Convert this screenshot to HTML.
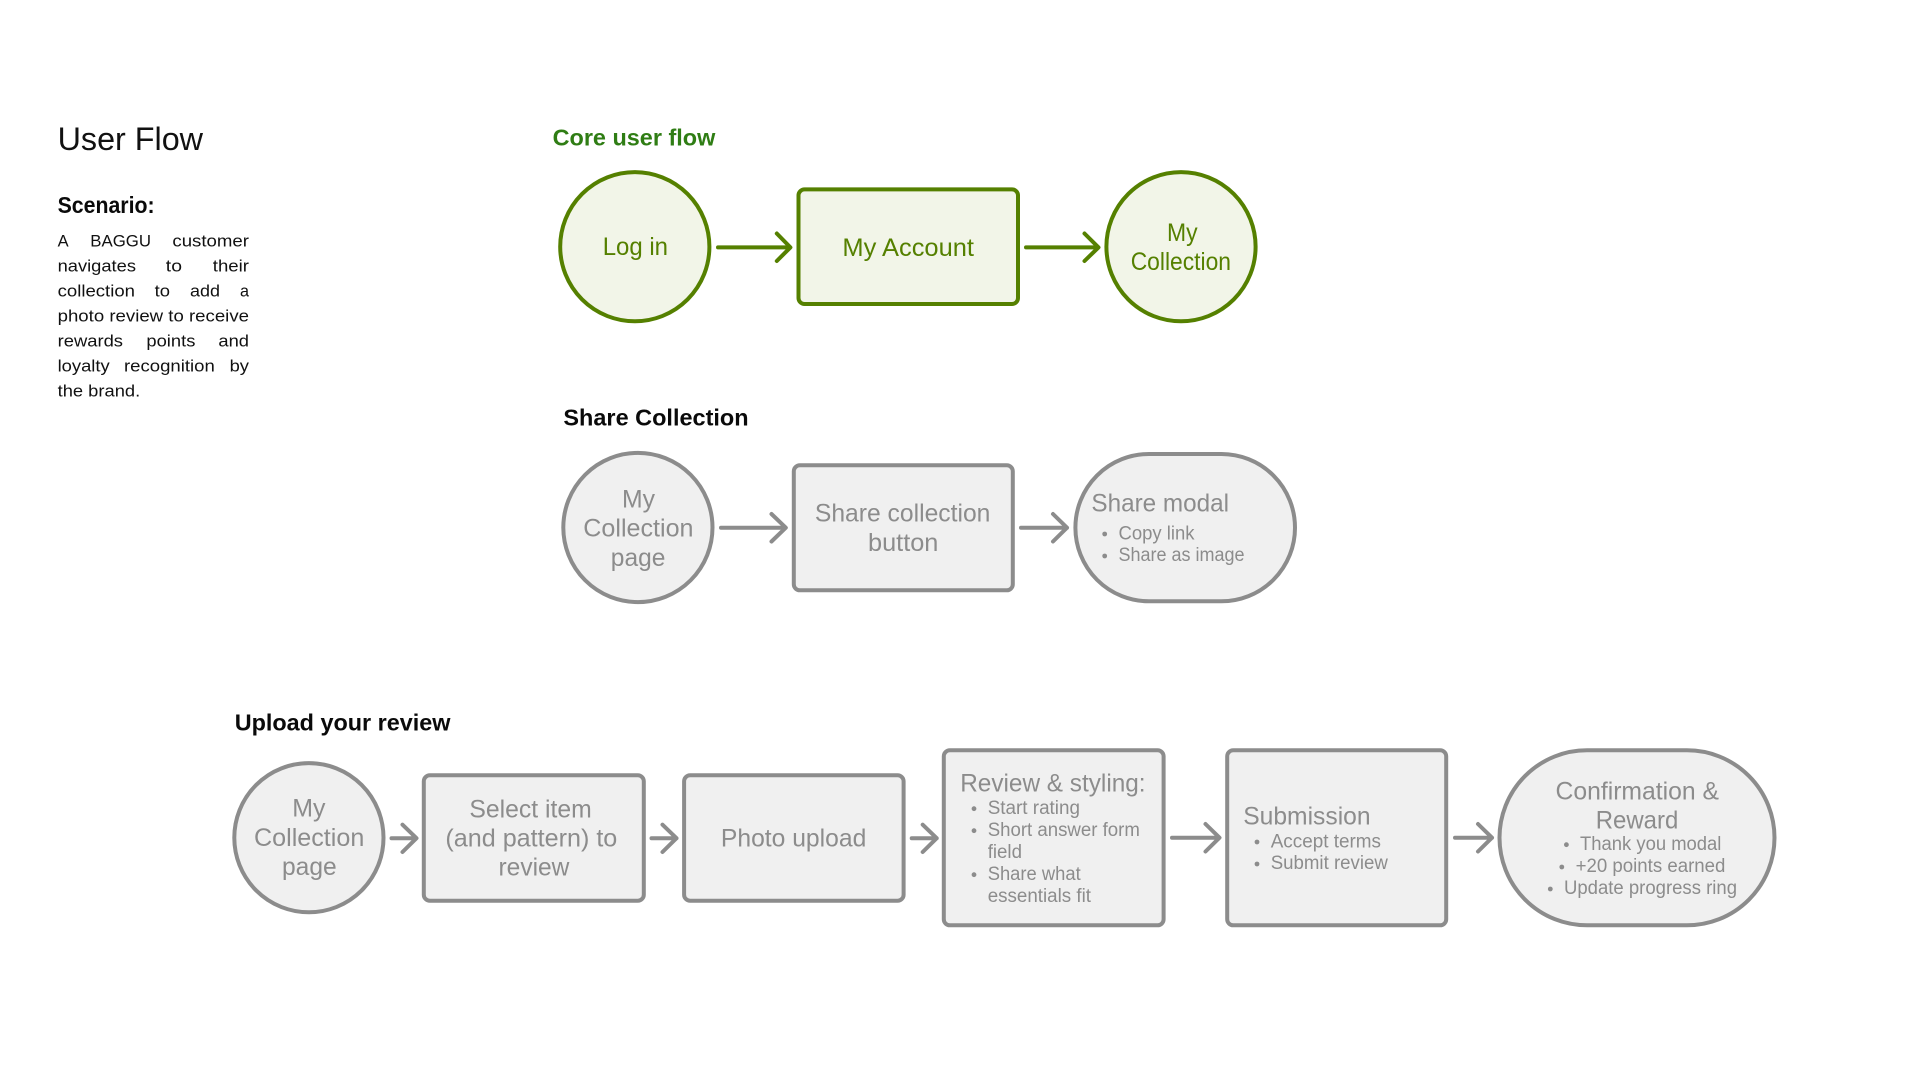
<!DOCTYPE html>
<html lang="en"><head><meta charset="utf-8"><title>User Flow</title>
<style>
html,body{margin:0;padding:0;background:#fff;width:1920px;height:1080px;overflow:hidden}
svg{display:block}
text{font-family:"Liberation Sans",sans-serif;white-space:pre}
.g{fill:#8c8c8c}
.n{fill:#558000}
.m{font-size:25px}
.s{font-size:19px}
.b{font-size:17px;fill:#111}
.h{font-size:23.5px;font-weight:700;fill:#0a0a0a}
.ag{fill:none;stroke:#8c8c8c;stroke-width:4;stroke-linecap:round;stroke-linejoin:round}
.an{fill:none;stroke:#558000;stroke-width:4;stroke-linecap:round;stroke-linejoin:round}
.ng{fill:#f0f0f0;stroke:#8c8c8c;stroke-width:4}
.nn{fill:#f2f5e8;stroke:#558000;stroke-width:4}
</style></head><body>
<svg width="1920" height="1080" viewBox="0 0 1920 1080" xmlns="http://www.w3.org/2000/svg">
<rect width="1920" height="1080" fill="#fff"/>

<!-- Left column -->
<text x="57.6" y="150" font-size="32" fill="#111" textLength="145.4" lengthAdjust="spacingAndGlyphs">User Flow</text>
<text x="57.6" y="213" class="h" textLength="97" lengthAdjust="spacingAndGlyphs">Scenario:</text>
<g class="b">
<text class="b" x="57.6" y="246.7" textLength="11" lengthAdjust="spacingAndGlyphs">A</text>
<text class="b" x="90.3" y="246.7" textLength="60.7" lengthAdjust="spacingAndGlyphs">BAGGU</text>
<text class="b" x="172.4" y="246.7" textLength="76.6" lengthAdjust="spacingAndGlyphs">customer</text>
<text class="b" x="57.6" y="271.7" textLength="78.4" lengthAdjust="spacingAndGlyphs">navigates</text>
<text class="b" x="165.8" y="271.7" textLength="16.2" lengthAdjust="spacingAndGlyphs">to</text>
<text class="b" x="212.8" y="271.7" textLength="36.2" lengthAdjust="spacingAndGlyphs">their</text>
<text class="b" x="57.6" y="296.7" textLength="77.4" lengthAdjust="spacingAndGlyphs">collection</text>
<text class="b" x="154.6" y="296.7" textLength="15.4" lengthAdjust="spacingAndGlyphs">to</text>
<text class="b" x="190" y="296.7" textLength="30" lengthAdjust="spacingAndGlyphs">add</text>
<text class="b" x="240" y="296.7" textLength="9" lengthAdjust="spacingAndGlyphs">a</text>
<text class="b" x="57.6" y="321.7" textLength="191.4" lengthAdjust="spacingAndGlyphs">photo review to receive</text>
<text class="b" x="57.6" y="346.7" textLength="65.4" lengthAdjust="spacingAndGlyphs">rewards</text>
<text class="b" x="146.4" y="346.7" textLength="49" lengthAdjust="spacingAndGlyphs">points</text>
<text class="b" x="218.4" y="346.7" textLength="30.6" lengthAdjust="spacingAndGlyphs">and</text>
<text class="b" x="57.6" y="371.7" textLength="52.1" lengthAdjust="spacingAndGlyphs">loyalty</text>
<text class="b" x="124" y="371.7" textLength="90.8" lengthAdjust="spacingAndGlyphs">recognition</text>
<text class="b" x="229.6" y="371.7" textLength="19.4" lengthAdjust="spacingAndGlyphs">by</text>
<text class="b" x="57.6" y="396.7" textLength="82.6" lengthAdjust="spacingAndGlyphs">the brand.</text>
</g>

<!-- Core user flow -->
<text x="552.6" y="145.7" font-size="23.5" font-weight="700" fill="#2f7d14" textLength="162.7" lengthAdjust="spacingAndGlyphs">Core user flow</text>
<circle class="nn" cx="634.8" cy="246.7" r="74.6"/>
<text class="n m" x="602.7" y="255" textLength="65.3" lengthAdjust="spacingAndGlyphs">Log in</text>
<path class="an" d="M718 247.4H790M776.8 233.5L790.4 247.4L776.8 261"/>
<rect class="nn" x="798.5" y="189.4" width="219.5" height="114.6" rx="6"/>
<text class="n m" x="842.4" y="256" textLength="131.6" lengthAdjust="spacingAndGlyphs">My Account</text>
<path class="an" d="M1026 247.4H1098M1084.5 233.5L1098.5 247.4L1084.5 261"/>
<circle class="nn" cx="1181" cy="246.7" r="74.6"/>
<text class="n m" x="1167" y="241" textLength="30.6" lengthAdjust="spacingAndGlyphs">My</text>
<text class="n m" x="1130.7" y="270" textLength="100.3" lengthAdjust="spacingAndGlyphs">Collection</text>

<!-- Share Collection -->
<text x="563.4" y="425.7" class="h" textLength="185.2" lengthAdjust="spacingAndGlyphs">Share Collection</text>
<circle class="ng" cx="637.9" cy="527.5" r="74.6"/>
<text class="g m" x="622" y="507.3" textLength="33" lengthAdjust="spacingAndGlyphs">My</text>
<text class="g m" x="583.3" y="536.7" textLength="110.2" lengthAdjust="spacingAndGlyphs">Collection</text>
<text class="g m" x="610.8" y="566" textLength="54.6" lengthAdjust="spacingAndGlyphs">page</text>
<path class="ag" d="M721 527.7H785.5M771.5 514L785.8 527.7L771.5 541.5"/>
<rect class="ng" x="793.8" y="465.3" width="219" height="125" rx="6"/>
<text class="g m" x="814.9" y="521.7" textLength="175.5" lengthAdjust="spacingAndGlyphs">Share collection</text>
<text class="g m" x="868" y="551" textLength="70.4" lengthAdjust="spacingAndGlyphs">button</text>
<path class="ag" d="M1021 527.7H1067M1053 514L1067 527.7L1053 541.5"/>
<rect class="ng" x="1075.4" y="454" width="219.6" height="147.3" rx="73.6"/>
<text class="g m" x="1091.4" y="511.7" textLength="137.6" lengthAdjust="spacingAndGlyphs">Share modal</text>
<circle class="g" cx="1104.7" cy="534" r="2.4"/><circle class="g" cx="1104.7" cy="556" r="2.4"/>
<text class="g s" x="1118.5" y="539.3" textLength="76" lengthAdjust="spacingAndGlyphs">Copy link</text>
<text class="g s" x="1118.5" y="561" textLength="126" lengthAdjust="spacingAndGlyphs">Share as image</text>

<!-- Upload your review -->
<text x="234.7" y="730.7" class="h" textLength="215.8" lengthAdjust="spacingAndGlyphs">Upload your review</text>
<circle class="ng" cx="308.9" cy="837.7" r="74.6"/>
<text class="g m" x="292.3" y="816.7" textLength="33.2" lengthAdjust="spacingAndGlyphs">My</text>
<text class="g m" x="254" y="846" textLength="110.3" lengthAdjust="spacingAndGlyphs">Collection</text>
<text class="g m" x="282" y="875" textLength="54.7" lengthAdjust="spacingAndGlyphs">page</text>
<path class="ag" d="M391.5 838.2H416M402.5 824.7L416.5 838.2L402.5 852"/>
<rect class="ng" x="423.8" y="775.3" width="220" height="125.4" rx="6"/>
<text class="g m" x="469.4" y="817.3" textLength="122.4" lengthAdjust="spacingAndGlyphs">Select item</text>
<text class="g m" x="445.4" y="846.7" textLength="171.9" lengthAdjust="spacingAndGlyphs">(and pattern) to</text>
<text class="g m" x="498.5" y="875.3" textLength="70.9" lengthAdjust="spacingAndGlyphs">review</text>
<path class="ag" d="M651.5 838.2H676.5M662.5 824.7L676.5 838.2L662.5 852"/>
<rect class="ng" x="684.1" y="775.3" width="219.5" height="125.4" rx="6"/>
<text class="g m" x="720.9" y="846.7" textLength="145.4" lengthAdjust="spacingAndGlyphs">Photo upload</text>
<path class="ag" d="M911.7 838.2H936.7M922.7 824.7L936.7 838.2L922.7 852"/>
<rect class="ng" x="943.8" y="750.3" width="219.8" height="175" rx="6"/>
<text class="g m" x="960.2" y="791.7" textLength="185.4" lengthAdjust="spacingAndGlyphs">Review &amp; styling:</text>
<circle class="g" cx="974" cy="808.7" r="2.4"/><circle class="g" cx="974" cy="830.7" r="2.4"/><circle class="g" cx="974" cy="874.7" r="2.4"/>
<text class="g s" x="987.7" y="814" textLength="92.3" lengthAdjust="spacingAndGlyphs">Start rating</text>
<text class="g s" x="987.7" y="836" textLength="152.2" lengthAdjust="spacingAndGlyphs">Short answer form</text>
<text class="g s" x="987.7" y="858" textLength="34.3" lengthAdjust="spacingAndGlyphs">field</text>
<text class="g s" x="987.7" y="880" textLength="93" lengthAdjust="spacingAndGlyphs">Share what</text>
<text class="g s" x="987.7" y="902" textLength="103.3" lengthAdjust="spacingAndGlyphs">essentials fit</text>
<path class="ag" d="M1172 837.7H1219M1205.5 824L1219.5 837.7L1205.5 851.5"/>
<rect class="ng" x="1227.2" y="750.3" width="219" height="175" rx="6"/>
<text class="g m" x="1243.2" y="824.7" textLength="127.4" lengthAdjust="spacingAndGlyphs">Submission</text>
<circle class="g" cx="1257" cy="842" r="2.4"/><circle class="g" cx="1257" cy="864" r="2.4"/>
<text class="g s" x="1270.7" y="847.3" textLength="110.3" lengthAdjust="spacingAndGlyphs">Accept terms</text>
<text class="g s" x="1270.7" y="869" textLength="117.2" lengthAdjust="spacingAndGlyphs">Submit review</text>
<path class="ag" d="M1455 837.7H1492M1478 824L1492 837.7L1478 851.5"/>
<rect class="ng" x="1499.5" y="750.3" width="275" height="175" rx="87.5"/>
<text class="g m" x="1555.5" y="799.3" textLength="163.5" lengthAdjust="spacingAndGlyphs">Confirmation &amp;</text>
<text class="g m" x="1595.7" y="828.3" textLength="82.6" lengthAdjust="spacingAndGlyphs">Reward</text>
<circle class="g" cx="1566.4" cy="844.7" r="2.4"/><circle class="g" cx="1561.8" cy="867" r="2.4"/><circle class="g" cx="1550.3" cy="889" r="2.4"/>
<text class="g s" x="1580" y="850" textLength="141.4" lengthAdjust="spacingAndGlyphs">Thank you modal</text>
<text class="g s" x="1575.6" y="872" textLength="149.8" lengthAdjust="spacingAndGlyphs">+20 points earned</text>
<text class="g s" x="1564" y="894" textLength="173" lengthAdjust="spacingAndGlyphs">Update progress ring</text>
</svg>
</body></html>
